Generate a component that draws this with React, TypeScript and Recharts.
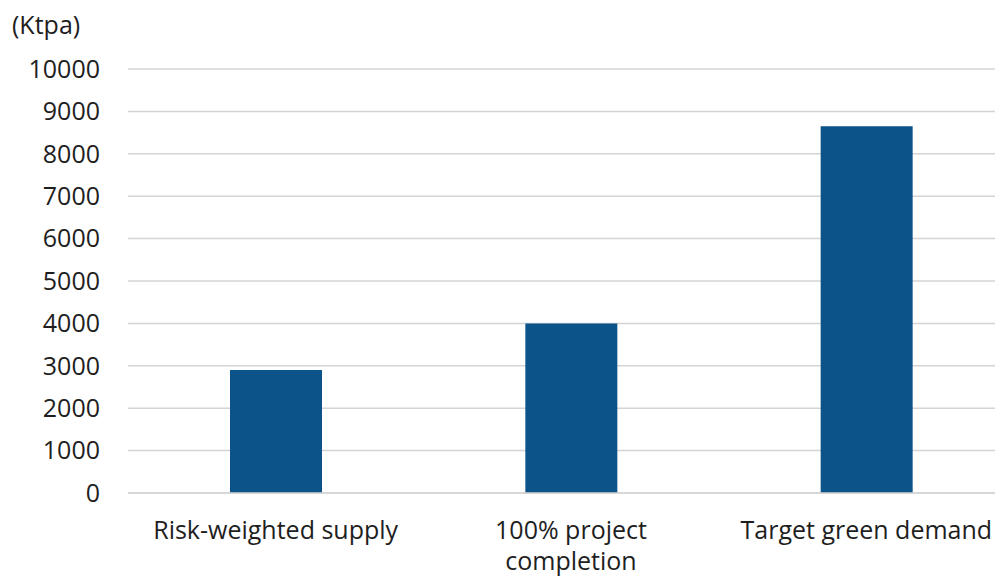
import React from "react";
import { BarChart, Bar, XAxis, YAxis, CartesianGrid } from "recharts";

// Categories, values (Ktpa) and wrapped tick labels
const categories = ["Risk-weighted supply", "100% project completion", "Target green demand"];
const capacity = [2900, 4000, 8650];
const categoryLines = [["Risk-weighted supply"], ["100% project", "completion"], ["Target green demand"]];
const yTicks = [0, 1000, 2000, 3000, 4000, 5000, 6000, 7000, 8000, 9000, 10000];
const unitLabel = "(Ktpa)";

const data = categories.map((name, i) => ({ name, value: capacity[i] }));

const FONT = "'Open Sans', sans-serif";
const TEXT = "#1e1e1e";

const CategoryTick = (props: any) => {
  const { x, y, index } = props;
  const lines = categoryLines[index] || [String(props.payload.value)];
  return (
    <text x={x} y={y} textAnchor="middle" fill={TEXT} fontFamily={FONT} fontSize={25}>
      {lines.map((line: string, i: number) => (
        <tspan key={i} x={x} dy={i === 0 ? 46 : 31}>
          {line}
        </tspan>
      ))}
    </text>
  );
};

export default function App() {
  return (
    <div style={{ margin: "-8px 0 0 -8px", width: 1003, height: 578, overflow: "hidden", background: "#fff" }}>
      <BarChart
        width={1030}
        height={578}
        data={data}
        margin={{ top: 69, right: 16, bottom: 0, left: 0 }}
      >
        <CartesianGrid vertical={false} stroke="#d4d4d4" strokeWidth={1.5} />
        <XAxis
          dataKey="name"
          height={85}
          tickLine={false}
          tickSize={0}
          tickMargin={0}
          axisLine={{ stroke: "#d4d4d4", strokeWidth: 1.5 }}
          interval={0}
          tick={<CategoryTick />}
        />
        <YAxis
          width={128}
          domain={[0, 10000]}
          ticks={yTicks}
          interval={0}
          axisLine={false}
          tickLine={false}
          tickSize={0}
          tickMargin={28}
          tick={{ fill: TEXT, fontFamily: FONT, fontSize: 25 }}
        />
        <Bar dataKey="value" fill="#0B5389" barSize={92} isAnimationActive={false} />
        <text x={12} y={34} fill={TEXT} fontFamily={FONT} fontSize={25}>
          {unitLabel}
        </text>
      </BarChart>
    </div>
  );
}
